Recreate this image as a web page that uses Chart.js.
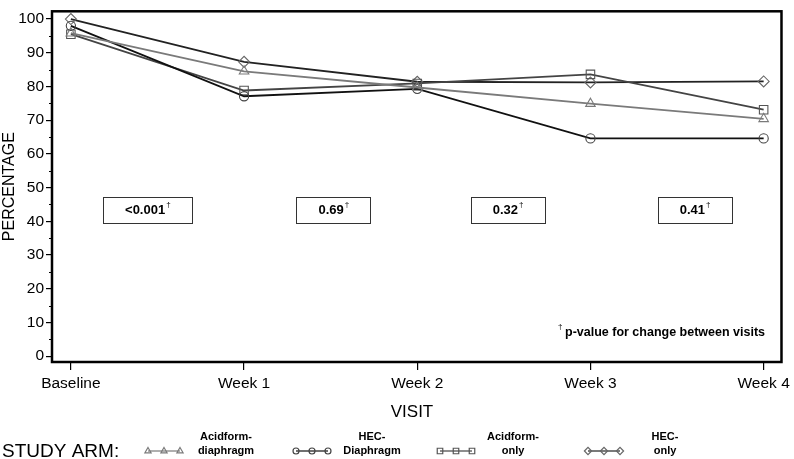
<!DOCTYPE html>
<html>
<head>
<meta charset="utf-8">
<script src="https://cdn.jsdelivr.net/npm/chart.js@4/dist/chart.umd.min.js"></script>
<style>
  body { margin: 0; background: #fff; }
  #wrap { width: 794px; height: 459px; }
</style>
</head>
<body>
<div id="wrap"><canvas id="chart" width="794" height="459"></canvas></div>
<script>
// Values
const visitLabels = ['Baseline', 'Week 1', 'Week 2', 'Week 3', 'Week 4'];
const acidDiaphragm = [95.8, 84.5, 79.7, 74.9, 70.4];
const hecDiaphragm = [98, 77.1, 79.3, 64.6, 64.6];
const acidOnly = [95.5, 78.8, 80.9, 83.6, 73.1];
const hecOnly = [100, 87.3, 81.4, 81.2, 81.5];
const yTicks = [0, 10, 20, 30, 40, 50, 60, 70, 80, 90, 100];
const pValues = ['<0.001', '0.69', '0.32', '0.41'];
const legendLines = [['Acidform-', 'diaphragm'], ['HEC-', 'Diaphragm'], ['Acidform-', 'only'], ['HEC-', 'only']];

const FONT = '"Liberation Sans", Arial, Helvetica, sans-serif';

// where the p-value boxes sit (in visit units) and the legend layout
const pBoxX = [0.443, 1.517, 2.523, 3.603];
const pBoxY = 43.5;
const legendSample = [148, 296, 440, 588];
const legendText = [226, 372, 513, 665];

function pts(arr) {
  return arr.map((v, i) => ({ x: i, y: v }));
}

const series = [
  { label: 'Acidform-diaphragm', data: acidDiaphragm, line: '#7a7a7a', mark: '#7a7a7a', style: 'triangle', r: 5.5 },
  { label: 'HEC-Diaphragm', data: hecDiaphragm, line: '#111111', mark: '#444444', style: 'circle', r: 4.6 },
  { label: 'Acidform-only', data: acidOnly, line: '#444444', mark: '#555555', style: 'rect', r: 6 },
  { label: 'HEC-only', data: hecOnly, line: '#222222', mark: '#666666', style: 'rectRot', r: 5.5 }
];

function drawMark(ctx, style, r, x, y) {
  if (Chart.helpers && Chart.helpers.drawPoint) {
    Chart.helpers.drawPoint(ctx, { pointStyle: style, radius: r, borderWidth: 1 }, x, y);
    return;
  }
  ctx.beginPath();
  ctx.arc(x, y, r, 0, Math.PI * 2);
  ctx.stroke();
}

// boxes, footnote, axis titles, legend and frame
const extras = {
  id: 'extras',
  afterDraw(chart) {
    const ctx = chart.ctx;
    const area = chart.chartArea;
    const xs = chart.scales.x;
    const ys = chart.scales.y;
    ctx.save();

    // minor ticks on y
    ctx.strokeStyle = '#000';
    ctx.lineWidth = 1;
    for (let v = 5; v < 100; v += 10) {
      const y = Math.round(ys.getPixelForValue(v)) + 0.5;
      ctx.beginPath();
      ctx.moveTo(area.left - 3, y);
      ctx.lineTo(area.left, y);
      ctx.stroke();
    }

    // p-value boxes
    pValues.forEach((txt, i) => {
      ctx.font = 'bold 13px ' + FONT;
      const w = ctx.measureText(txt).width;
      const boxW = w + 5 + 44;
      const cx = xs.getPixelForValue(pBoxX[i]);
      const cy = ys.getPixelForValue(pBoxY);
      ctx.fillStyle = '#fff';
      ctx.fillRect(cx - boxW / 2, cy - 13, boxW, 26);
      ctx.strokeStyle = '#333';
      ctx.lineWidth = 1;
      ctx.strokeRect(Math.round(cx - boxW / 2) + 0.5, Math.round(cy - 13) + 0.5, Math.round(boxW), 26);
      ctx.fillStyle = '#000';
      ctx.textAlign = 'left';
      ctx.textBaseline = 'middle';
      const tx = cx - (w + 5) / 2;
      ctx.fillText(txt, tx, cy + 1);
      ctx.font = '8px ' + FONT;
      ctx.fillText('\u2020', tx + w + 1, cy - 5);
    });

    // footnote
    ctx.textBaseline = 'middle';
    ctx.font = '8px ' + FONT;
    ctx.fillText('\u2020', 558, 327);
    ctx.font = 'bold 12.5px ' + FONT;
    ctx.fillText('p-value for change between visits', 565, 333);

    // axis titles
    ctx.font = '16px ' + FONT;
    ctx.textAlign = 'center';
    ctx.save();
    ctx.translate(10, (area.top + area.bottom) / 2);
    ctx.rotate(-Math.PI / 2);
    ctx.fillText('PERCENTAGE', 0, 0);
    ctx.restore();
    ctx.font = '17px ' + FONT;
    ctx.fillText('VISIT', 412, 412);

    // legend
    ctx.textAlign = 'left';
    ctx.font = '19px ' + FONT;
    ctx.fillText('STUDY ARM:', 2, 452);
    series.forEach((s, i) => {
      const x0 = legendSample[i];
      const y0 = 451;
      ctx.strokeStyle = s.line;
      ctx.lineWidth = 1.2;
      ctx.beginPath();
      ctx.moveTo(x0, y0);
      ctx.lineTo(x0 + 32, y0);
      ctx.stroke();
      ctx.strokeStyle = s.mark;
      ctx.fillStyle = 'rgba(0,0,0,0)';
      [0, 16, 32].forEach(dx => drawMark(ctx, s.style, s.r * 0.65, x0 + dx, y0));
      ctx.fillStyle = '#000';
      ctx.font = 'bold 11px ' + FONT;
      ctx.textAlign = 'center';
      ctx.fillText(legendLines[i][0], legendText[i], 437);
      ctx.fillText(legendLines[i][1], legendText[i], 451);
      ctx.textAlign = 'left';
    });

    // frame
    ctx.strokeStyle = '#000';
    ctx.lineWidth = 2.5;
    ctx.strokeRect(area.left, area.top, area.right - area.left, area.bottom - area.top);
    ctx.restore();
  }
};

new Chart(document.getElementById('chart'), {
  type: 'line',
  data: {
    datasets: series.map(s => ({
      label: s.label,
      data: pts(s.data),
      borderColor: s.line,
      borderWidth: 1.8,
      pointStyle: s.style,
      pointRadius: s.r,
      pointBorderColor: s.mark,
      pointBackgroundColor: 'rgba(255,255,255,0)',
      pointBorderWidth: 1.1,
      tension: 0,
      fill: false
    }))
  },
  options: {
    responsive: false,
    animation: false,
    layout: { padding: { top: 1, right: 9, left: 0, bottom: 0 } },
    plugins: {
      legend: { display: false },
      tooltip: { enabled: false }
    },
    scales: {
      x: {
        type: 'linear',
        min: -0.109,
        max: 4.103,
        afterBuildTicks: s => { s.ticks = visitLabels.map((_, i) => ({ value: i })); },
        afterFit: s => { s.height = 97; },
        ticks: {
          callback: v => visitLabels[v],
          color: '#000',
          font: { family: FONT, size: 15.5 },
          padding: 4,
          maxRotation: 0,
          autoSkip: false
        },
        grid: { drawOnChartArea: false, tickLength: 8, color: '#000', lineWidth: 1.2 },
        border: { display: false }
      },
      y: {
        min: -1.73,
        max: 102.3,
        afterBuildTicks: s => { s.ticks = yTicks.map(v => ({ value: v })); },
        afterFit: s => { s.width = 52; },
        ticks: {
          color: '#000',
          font: { family: FONT, size: 15.5 },
          padding: 2
        },
        grid: { drawOnChartArea: false, tickLength: 6, color: '#000', lineWidth: 1.2 },
        border: { display: false }
      }
    }
  },
  plugins: [extras]
});
</script>
</body>
</html>
